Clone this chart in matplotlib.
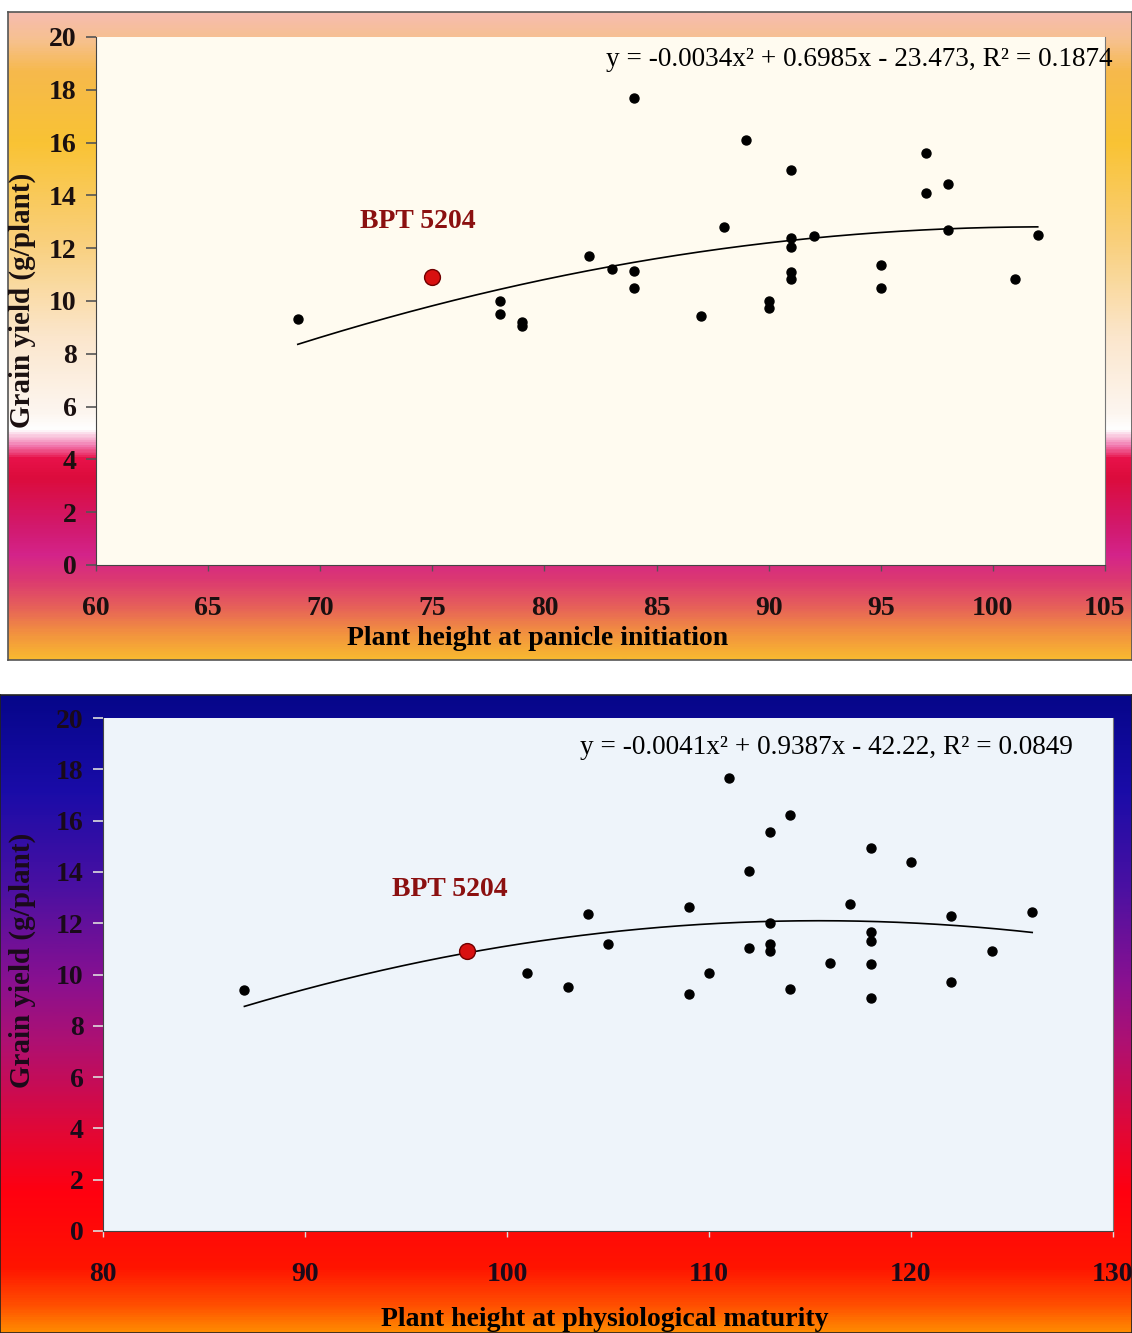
import numpy as np
import matplotlib.pyplot as plt
from matplotlib.colors import LinearSegmentedColormap

# Datos (panel superior: iniciacion de panicula)
x_pi = [69, 78, 78, 79, 79, 82, 83, 84, 84, 84, 87, 88, 89, 90, 90,
        91, 91, 91, 91, 91, 92, 95, 95, 97, 97, 98, 98, 101, 102]
y_pi = [9.3, 10.0, 9.5, 9.2, 9.05, 11.7, 11.2, 17.7, 11.15, 10.5, 9.45, 12.8, 16.1, 10.0, 9.75,
        14.95, 12.4, 12.05, 11.1, 10.85, 12.45, 11.35, 10.5, 15.6, 14.1, 14.45, 12.7, 10.85, 12.5]
bpt_pi = (75, 10.9)

# Panel inferior: madurez fisiologica
x_pm = [87, 101, 103, 104, 105, 109, 109, 110, 111, 112, 112, 113, 113, 113, 113,
        114, 114, 116, 117, 118, 118, 118, 118, 118, 120, 122, 122, 124, 126]
y_pm = [9.4, 10.05, 9.5, 12.35, 11.2, 12.65, 9.25, 10.05, 17.65, 14.05, 11.05, 15.55, 12.0, 11.2, 10.9,
        16.2, 9.45, 10.45, 12.75, 14.95, 11.65, 11.3, 10.4, 9.1, 14.4, 12.3, 9.7, 10.9, 12.45]
bpt_pm = (98, 10.9)

eq_pi = "y = -0.0034x² + 0.6985x - 23.473, R² = 0.1874"
eq_pm = "y = -0.0041x² + 0.9387x - 42.22, R² = 0.0849"

W, H = 1132, 1333
fig = plt.figure(figsize=(W / 100, H / 100), dpi=100)
fig.patch.set_facecolor('white')
serif = ['Liberation Serif', 'DejaVu Serif']

def caja(px, py, pw, ph):
    # convierte pixeles (desde arriba) a fracciones de la figura
    return [px / W, 1 - (py + ph) / H, pw / W, ph / H]

def fondo(rect, colores, borde):
    cmap = LinearSegmentedColormap.from_list('g', colores)
    bg = fig.add_axes(rect, zorder=0)
    grad = np.linspace(0, 1, 600).reshape(-1, 1)
    bg.imshow(grad, aspect='auto', cmap=cmap, extent=[0, 1, 0, 1])
    bg.set_xticks([])
    bg.set_yticks([])
    for s in bg.spines.values():
        s.set_color(borde)
        s.set_linewidth(1.2)

# fondo degradado del panel superior
fondo(caja(8, 12, 1124, 648), [
    (0.00, '#f6bcae'), (0.04, '#f7c190'), (0.09, '#f6b94c'), (0.20, '#f9c334'),
    (0.35, '#f9cf7a'), (0.50, '#fbe6cc'), (0.62, '#fdf6f0'), (0.645, '#ffffff'),
    (0.67, '#f27ab0'), (0.69, '#e8124a'), (0.72, '#dc0c3c'), (0.80, '#d21a70'),
    (0.84, '#d4248a'), (0.88, '#dc3a70'), (0.92, '#e6605a'), (0.96, '#f29040'),
    (1.00, '#f8b830')], '#555555')

# fondo degradado del panel inferior
fondo(caja(0, 695, 1132, 638), [
    (0.00, '#06068a'), (0.15, '#1a0ca8'), (0.30, '#4a10a2'), (0.45, '#8a1090'),
    (0.55, '#b01070'), (0.68, '#e00838'), (0.78, '#ff0010'), (0.90, '#ff1400'),
    (0.96, '#ff5000'), (1.00, '#ff8a00')], '#222222')

def panel(rect, xs, ys, bpt, xlim, xticks, fondo_color, eq, eq_pos, bpt_pos,
          xlabel, xlabel_pos, ylabel_pos, tick_color, lbl_color):
    ax = fig.add_axes(rect, zorder=1)
    ax.set_facecolor(fondo_color)
    ax.set_xlim(*xlim)
    ax.set_ylim(0, 20)
    ax.set_xticks(xticks)
    ax.set_yticks(range(0, 21, 2))
    ax.spines['top'].set_visible(False)
    ax.spines['left'].set_color('#444444')
    ax.spines['bottom'].set_color('#444444')
    ax.spines['right'].set_color('#777777')
    ax.spines['right'].set_linewidth(0.8)
    ax.tick_params(axis='y', length=7, width=1.2, color=tick_color, pad=7,
                   labelsize=20, labelcolor=lbl_color)
    ax.tick_params(axis='x', length=4, width=1, color=tick_color, pad=18,
                   labelsize=20, labelcolor=lbl_color)
    for t in ax.get_xticklabels() + ax.get_yticklabels():
        t.set_family(serif)
        t.set_fontweight('bold')

    # linea de tendencia polinomica de grado 2
    c = np.polyfit(xs, ys, 2)
    xx = np.linspace(min(xs), max(xs), 200)
    ax.plot(xx, np.polyval(c, xx), color='black', lw=1.2, zorder=2)

    ax.scatter(xs, ys, s=42, color='black', zorder=3)
    ax.scatter([bpt[0]], [bpt[1]], s=130, color='#d81010', edgecolor='#700000',
               linewidth=1, zorder=4)

    fig.text(eq_pos[0] / W, 1 - eq_pos[1] / H, eq, family=serif, fontsize=19.6,
             ha='left', va='center', color='black', zorder=5)
    fig.text(bpt_pos[0] / W, 1 - bpt_pos[1] / H, 'BPT 5204', family=serif,
             fontsize=20, fontweight='bold', ha='center', va='center',
             color='#8b1010', zorder=5)
    fig.text(xlabel_pos[0] / W, 1 - xlabel_pos[1] / H, xlabel, family=serif,
             fontsize=20, fontweight='bold', ha='center', va='center',
             color='black', zorder=5)
    fig.text(ylabel_pos[0] / W, 1 - ylabel_pos[1] / H, 'Grain yield (g/plant)',
             family=serif, fontsize=21, fontweight='bold', rotation=90,
             ha='center', va='center', color=lbl_color, zorder=5)
    return ax

panel(caja(96, 37, 1009, 528), x_pi, y_pi, bpt_pi, (60, 105), range(60, 106, 5),
      '#fffbf0', eq_pi, (606, 60), (418, 222),
      'Plant height at panicle initiation', (538, 638), (22, 300),
      '#555555', '#1a1010')

panel(caja(103, 718, 1010, 513), x_pm, y_pm, bpt_pm, (80, 130), range(80, 131, 10),
      '#eef4fa', eq_pm, (580, 748), (450, 890),
      'Plant height at physiological maturity', (605, 1319), (22, 960),
      '#dddddd', '#1a0a1a')

fig.savefig('out.png', dpi=100)
